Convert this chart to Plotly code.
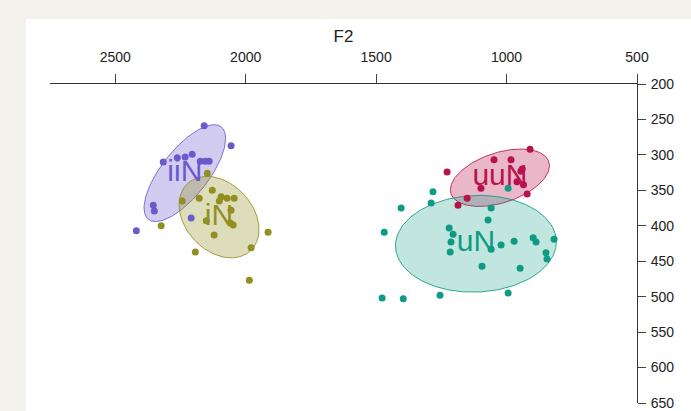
import numpy as np
import plotly.graph_objects as go

# ---- data (F2, F1 in Hz) ----
iiN_F2 = [2159, 2056, 2316, 2262, 2232, 2205, 2174, 2155, 2140, 2354, 2350, 2209, 2419]
iiN_F1 = [259, 287, 310, 304, 303, 299, 309, 309, 309, 371, 379, 389, 407]

iN_F2 = [2147, 2128, 2243, 2178, 2094, 2071, 2044, 2101, 2056, 2151, 2059, 2048, 2121, 2324, 1914, 2193, 1979, 1986]
iN_F1 = [326, 350, 365, 361, 359, 361, 361, 365, 378, 393, 396, 399, 413, 400, 409, 437, 431, 477]

uuN_F2 = [1228, 1048, 983, 910, 1186, 1151, 1098, 921, 945, 960, 935, 940]
uuN_F1 = [324, 307, 307, 292, 371, 361, 347, 355, 323, 338, 342, 320]

uN_F2 = [1282, 1289, 1404, 1469, 1220, 1205, 1213, 1216, 1059, 1071, 1059, 1021, 971, 898, 887, 818,
         849, 845, 1094, 948, 994, 1477, 1396, 1255, 994]
uN_F1 = [352, 368, 375, 409, 403, 412, 423, 437, 375, 392, 433, 427, 422, 417, 423, 419,
         438, 447, 457, 460, 495, 502, 503, 498, 347]

groups = ["iiN", "iN", "uuN", "uN"]
F2_ticks = [2500, 2000, 1500, 1000, 500]
F1_ticks = [200, 250, 300, 350, 400, 450, 500, 550, 600, 650]

# ---- styles ----
colors = {"iiN": (106, 90, 205), "iN": (145, 143, 31), "uuN": (184, 18, 77), "uN": (15, 154, 132)}
fill_alpha = {"iiN": 0.3, "iN": 0.3, "uuN": 0.3, "uN": 0.26}
scale_k = {"iiN": 1.52, "iN": 1.56, "uuN": 1.68, "uN": 1.54}
data = {"iiN": (iiN_F2, iiN_F1), "iN": (iN_F2, iN_F1), "uuN": (uuN_F2, uuN_F1), "uN": (uN_F2, uN_F1)}
FONT = "Liberation Sans, Arial, sans-serif"

fig = go.Figure()
t = np.linspace(0, 2 * np.pi, 200)

# ellipses
for g in groups:
    x, y = np.array(data[g][0], float), np.array(data[g][1], float)
    m = np.array([x.mean(), y.mean()])
    cov = np.cov(np.vstack([x, y]))
    L = np.linalg.cholesky(cov)
    pts = m[:, None] + scale_k[g] * L @ np.vstack([np.cos(t), np.sin(t)])
    r, gg, b = colors[g]
    fig.add_trace(go.Scatter(x=pts[0], y=pts[1], mode="lines", fill="toself",
                             fillcolor=f"rgba({r},{gg},{b},{fill_alpha[g]})",
                             line=dict(color=f"rgba({r},{gg},{b},0.85)", width=1),
                             hoverinfo="skip", showlegend=False))

# points
for g in groups:
    r, gg, b = colors[g]
    fig.add_trace(go.Scatter(x=data[g][0], y=data[g][1], mode="markers",
                             marker=dict(size=7, color=f"rgb({r},{gg},{b})"),
                             showlegend=False))

# labels at group means
for g in groups:
    r, gg, b = colors[g]
    fig.add_trace(go.Scatter(x=[np.mean(data[g][0])], y=[np.mean(data[g][1])], mode="text",
                             text=[g], textposition="middle center",
                             textfont=dict(size=30, color=f"rgb({r},{gg},{b})", family=FONT),
                             showlegend=False, hoverinfo="skip"))

W, H = 691, 411
ml, mr, mt, mb = 50, 54, 84, 8
pw, ph = W - ml - mr, H - mt - mb
fig.add_shape(type="rect", xref="paper", yref="paper",
              x0=(26 - ml) / pw, x1=(W - ml + 5) / pw,
              y0=-(mb + 5) / ph, y1=(ph + mt - 19) / ph,
              fillcolor="white", line=dict(width=0), layer="below")

fig.update_layout(
    width=W, height=H,
    margin=dict(l=ml, r=mr, t=mt, b=mb, autoexpand=False),
    paper_bgcolor="#f2f1ec", plot_bgcolor="white",
    font=dict(family=FONT, size=14, color="#222"),
    xaxis=dict(side="top", range=[2750, 500], tickvals=F2_ticks, ticks="outside", ticklen=9,
               tickcolor="#444", showline=True, linecolor="#333", linewidth=1, showgrid=False,
               zeroline=False, title=dict(text="F2", standoff=2), tickfont=dict(size=14),
               ticklabelstandoff=6, automargin=False, fixedrange=True),
    yaxis=dict(side="right", range=[650, 200], tickvals=F1_ticks, ticks="outside", ticklen=8,
               tickcolor="#444", showline=True, linecolor="#333", linewidth=1, showgrid=False,
               zeroline=False, tickfont=dict(size=14), ticklabelstandoff=2, automargin=False,
               fixedrange=True),
)

fig.write_html("out.html", config={"displayModeBar": False},
               post_script="document.body.style.margin='0';")
